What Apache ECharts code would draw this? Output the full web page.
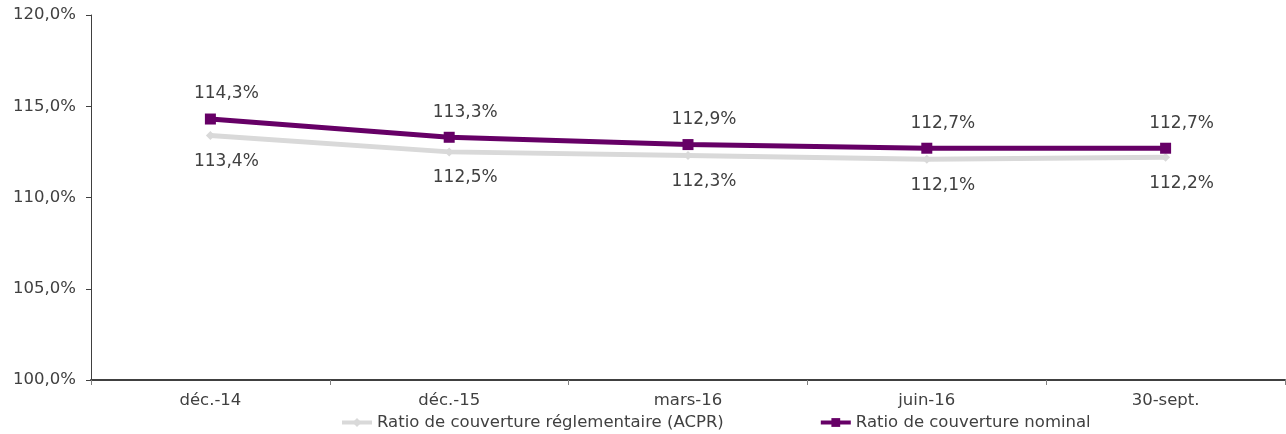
<!DOCTYPE html>
<html>
<head>
<meta charset="utf-8">
<script src="https://cdn.jsdelivr.net/npm/echarts@6/dist/echarts.min.js"></script>
<style>html,body{margin:0;padding:0;background:#fff;}#c{width:1286px;height:434px;}</style>
</head>
<body>
<div id="c"></div>
<script>
const categories = ['déc.-14', 'déc.-15', 'mars-16', 'juin-16', '30-sept.'];
const acprValues = [113.4, 112.5, 112.3, 112.1, 112.2];
const nominalValues = [114.3, 113.3, 112.9, 112.7, 112.7];
const seriesNames = ['Ratio de couverture réglementaire (ACPR)', 'Ratio de couverture nominal'];
const yTicks = [100, 105, 110, 115, 120];

const fmt = v => v.toFixed(1).replace('.', ',') + '%';
const FONT = 'DejaVu Sans';
const chart = echarts.init(document.getElementById('c'));
chart.setOption({
  animation: false,
  textStyle: { fontFamily: FONT },
  grid: { left: 91, right: 1, top: 15, bottom: 54 },
  legend: {
    top: 409, left: 335, itemGap: 95, itemWidth: 30, itemHeight: 11,
    lineStyle: { width: 4 },
    textStyle: { fontFamily: FONT, fontSize: 16.5, color: '#404040' },
    data: seriesNames
  },
  xAxis: {
    type: 'category', data: categories, boundaryGap: true,
    axisLine: { lineStyle: { color: '#404040', width: 2 } },
    axisTick: { show: true, length: 5, lineStyle: { color: '#808080' } },
    axisLabel: { fontFamily: FONT, fontSize: 16.5, color: '#404040', margin: 12 }
  },
  yAxis: {
    type: 'value', min: yTicks[0], max: yTicks[yTicks.length - 1], interval: 5,
    axisLine: { show: true, lineStyle: { color: '#404040', width: 1 } },
    axisTick: { show: true, length: 5, lineStyle: { color: '#404040' } },
    splitLine: { show: false },
    axisLabel: { fontFamily: FONT, fontSize: 16.5, color: '#404040', margin: 15, formatter: v => fmt(v) }
  },
  series: [
    {
      name: seriesNames[0], type: 'line', data: acprValues,
      symbol: 'diamond', symbolSize: 9,
      lineStyle: { color: '#d9d9d9', width: 5 },
      itemStyle: { color: '#d9d9d9' },
      label: { show: true, position: 'bottom', distance: 13, offset: [16, 0], formatter: p => fmt(p.value), fontFamily: FONT, fontSize: 17, color: '#404040' }
    },
    {
      name: seriesNames[1], type: 'line', data: nominalValues,
      symbol: 'rect', symbolSize: 11,
      lineStyle: { color: '#660066', width: 5 },
      itemStyle: { color: '#660066' },
      label: { show: true, position: 'top', distance: 11, offset: [16, 0], formatter: p => fmt(p.value), fontFamily: FONT, fontSize: 17, color: '#404040' }
    }
  ]
});
</script>
</body>
</html>
